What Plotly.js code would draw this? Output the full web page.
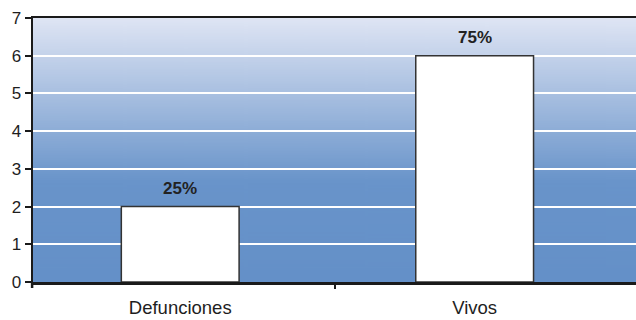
<!DOCTYPE html>
<html>
<head>
<meta charset="utf-8">
<script src="https://cdn.plot.ly/plotly-3.0.1.min.js"></script>
<style>html,body{margin:0;padding:0;background:#fff;}#chart{width:636px;height:320px;}</style>
</head>
<body>
<div id="chart"></div>
<script>
const categories = ['Defunciones', 'Vivos'];
const values = [2, 6];
const pctLabels = ['25%', '75%'];
const yTickVals = [0, 1, 2, 3, 4, 5, 6, 7];

// background gradient image
const cv = document.createElement('canvas');
cv.width = 10; cv.height = 300;
const ctx = cv.getContext('2d');
const g = ctx.createLinearGradient(0, 0, 0, 300);
g.addColorStop(0, '#dfe5f4');
g.addColorStop(0.62, '#6994ca');
g.addColorStop(1, '#6490c8');
ctx.fillStyle = g;
ctx.fillRect(0, 0, 10, 300);
const bgURL = cv.toDataURL('image/png');

const trace = {
  type: 'bar',
  x: categories,
  y: values,
  marker: {color: '#ffffff', line: {color: '#333333', width: 1.5}},
  hoverinfo: 'none'
};

const annotations = categories.map((c, i) => ({
  x: c, y: values[i], xref: 'x', yref: 'y',
  text: '<b>' + pctLabels[i] + '</b>',
  showarrow: false, yanchor: 'bottom', yshift: 7,
  font: {family: 'Liberation Sans, Arial, sans-serif', size: 17, color: '#222222'}
}));

const layout = {
  width: 636, height: 320,
  margin: {l: 33, r: 0, t: 18, b: 38, pad: 0},
  paper_bgcolor: '#ffffff',
  plot_bgcolor: 'rgba(0,0,0,0)',
  bargap: 0.6,
  showlegend: false,
  font: {family: 'Liberation Sans, Arial, sans-serif', color: '#1e1e1e'},
  images: [{
    source: bgURL, xref: 'paper', yref: 'paper', x: 0, y: 1,
    sizex: 1, sizey: 1, sizing: 'stretch', xanchor: 'left', yanchor: 'top', layer: 'below'
  }],
  xaxis: {
    type: 'category',
    range: [-0.5, 1.548],
    showgrid: false, zeroline: false,
    showline: true, linecolor: '#1a1a1a', linewidth: 2.5, mirror: true,
    ticks: '', ticklen: 0,
    ticklabelstandoff: 7,
    tickfont: {size: 18.5, color: '#1e1e1e'},
    fixedrange: true
  },
  yaxis: {
    range: [0, 7],
    tickmode: 'array', tickvals: yTickVals,
    showgrid: true, gridcolor: '#ffffff', gridwidth: 2,
    zeroline: false,
    showline: true, linecolor: '#1a1a1a', linewidth: 2.5,
    ticks: 'outside', ticklen: 6, tickwidth: 2, tickcolor: '#1a1a1a',
    tickfont: {size: 17, color: '#1e1e1e'},
    fixedrange: true
  },
  shapes: [
    {
      type: 'line', xref: 'paper', yref: 'paper', ysizemode: 'pixel', yanchor: 0,
      x0: 0.5008, x1: 0.5008, y0: -1, y1: -7,
      line: {color: '#1a1a1a', width: 2}
    },
    {
      type: 'line', xref: 'paper', yref: 'paper', ysizemode: 'pixel', yanchor: 0,
      x0: -0.0015, x1: -0.0015, y0: 0, y1: -6,
      line: {color: '#1a1a1a', width: 2.5}
    }
  ],
  annotations: annotations
};

Plotly.newPlot('chart', [trace], layout, {staticPlot: true, displayModeBar: false});
</script>
</body>
</html>
